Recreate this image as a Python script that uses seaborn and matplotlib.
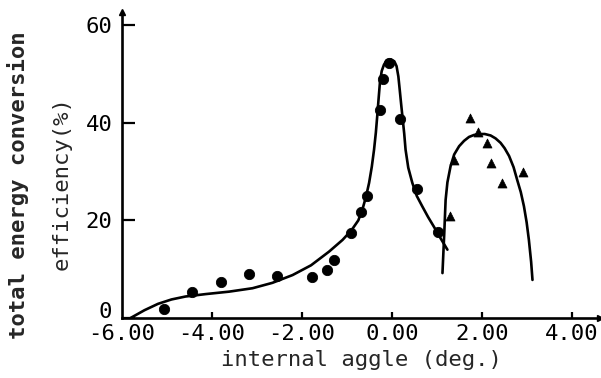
import numpy as np
import pandas as pd
import seaborn as sns
import matplotlib
matplotlib.use('Agg')
import matplotlib.pyplot as plt
import matplotlib.transforms as mtransforms

# measured points (circles, first peak)
circ_x = [-5.07, -4.44, -3.81, -3.18, -2.56, -1.77, -1.45, -1.29, -0.92, -0.68,
          -0.55, -0.27, -0.21, -0.07, 0.17, 0.56, 1.01]
circ_y = [1.8, 5.4, 7.4, 9.0, 8.6, 8.3, 9.9, 11.8, 17.5, 21.7,
          24.9, 42.7, 49.0, 52.3, 40.7, 26.5, 17.7]

# measured points (triangles, second peak)
tri_x = [1.28, 1.38, 1.73, 1.91, 2.10, 2.20, 2.45, 2.91]
tri_y = [20.8, 32.4, 40.9, 38.2, 35.9, 31.7, 27.6, 30.0]

# theory curves
curve1_x = [-5.81, -5.50, -5.20, -4.90, -4.59, -4.14, -3.62, -3.10, -2.66, -2.21,
            -1.80, -1.40, -1.10, -0.90, -0.75, -0.66, -0.58, -0.51, -0.45, -0.40,
            -0.36, -0.33, -0.30, -0.27, -0.23, -0.18, -0.12, -0.03, 0.05, 0.10,
            0.14, 0.17, 0.20, 0.23, 0.27, 0.30, 0.36, 0.45, 0.55, 0.67,
            0.80, 0.93, 1.08, 1.23]
curve1_y = [0.0, 1.6, 2.9, 3.8, 4.4, 4.9, 5.4, 6.1, 7.2, 8.8,
            10.8, 13.6, 16.0, 18.0, 20.0, 22.2, 24.8, 27.7, 31.0, 34.5,
            38.0, 41.3, 44.8, 48.2, 50.6, 51.9, 52.8, 53.0, 52.6, 51.6,
            49.5, 46.8, 44.0, 41.3, 37.8, 34.5, 30.8, 27.7, 25.0, 22.9,
            20.7, 18.7, 16.3, 14.0]

curve2_x = [1.12, 1.16, 1.19, 1.23, 1.30, 1.38, 1.49, 1.60, 1.71, 1.82, 1.93, 2.06, 2.19,
            2.30, 2.41, 2.50, 2.60, 2.70, 2.78, 2.86, 2.93, 2.99, 3.04, 3.09, 3.12]
curve2_y = [9.2, 17.4, 24.2, 27.8, 31.1, 33.5, 35.2, 36.3, 37.1, 37.5, 37.7, 37.7, 37.4,
            36.8, 35.9, 34.8, 33.2, 30.9, 28.3, 25.8, 22.9, 19.6, 16.0, 11.5, 7.8]

xticks = [-6, -4, -2, 0, 2, 4]
xticklabels = ['-6.00', '-4.00', '-2.00', '0.00', '2.00', '4.00']
yticks = [0, 20, 40, 60]

sns.set_style('ticks')
plt.rcParams['font.family'] = ['DejaVu Sans Mono', 'DejaVu Sans']

fig = plt.figure(figsize=(6.01, 3.78), dpi=100)
ax = fig.add_axes([122 / 601, 1 - 318 / 378, (600 - 122) / 601, (318 - 12) / 378])

c1 = pd.DataFrame({'x': curve1_x, 'y': curve1_y})
c2 = pd.DataFrame({'x': curve2_x, 'y': curve2_y})
sns.lineplot(data=c1, x='x', y='y', sort=False, color='black', lw=1.9, ax=ax)
sns.lineplot(data=c2, x='x', y='y', sort=False, color='black', lw=1.9, ax=ax)
sns.scatterplot(x=circ_x, y=circ_y, color='black', s=55, marker='o', edgecolor='black', ax=ax)
sns.scatterplot(x=tri_x, y=tri_y, color='black', s=42, marker='^', edgecolor='black', ax=ax)

ax.set_xlim(-6.0, 4.62)
ax.set_ylim(0, 62.7)
sns.despine(ax=ax)
for s in ['left', 'bottom']:
    ax.spines[s].set_linewidth(1.9)
    ax.spines[s].set_color('black')

ax.set_xticks(xticks)
ax.set_xticklabels(xticklabels)
ax.set_yticks(yticks)
ax.tick_params(axis='x', direction='in', length=4, width=1.6, pad=4, labelsize=16, colors='black')
ax.tick_params(axis='y', direction='in', length=9, width=1.6, pad=7, labelsize=16, colors='black')
ax.xaxis.get_major_ticks()[0].tick1line.set_visible(False)
# zero label sits slightly above the axis line
zlab = ax.yaxis.get_major_ticks()[0].label1
zlab.set_transform(zlab.get_transform() + mtransforms.ScaledTranslation(0, 6 / 72, fig.dpi_scale_trans))

# little arrow heads on the axes
ax.plot(0, 1, marker='^', color='black', ms=5, transform=ax.transAxes, clip_on=False)
ax.plot(1, 0, marker='>', color='black', ms=5, transform=ax.transAxes, clip_on=False)

ax.set_xlabel('')
ax.set_ylabel('')
fig.text(361 / 601, 1 - 360 / 378, 'internal aggle (deg.)', ha='center', va='center', fontsize=16)
fig.text(18 / 601, 1 - 185 / 378, 'total energy conversion', ha='center', va='center',
         rotation=90, fontsize=16, fontweight='bold')
fig.text(62 / 601, 1 - 183 / 378, 'efficiency(%)', ha='center', va='center', rotation=90, fontsize=16)

fig.savefig('out.png', dpi=100)
